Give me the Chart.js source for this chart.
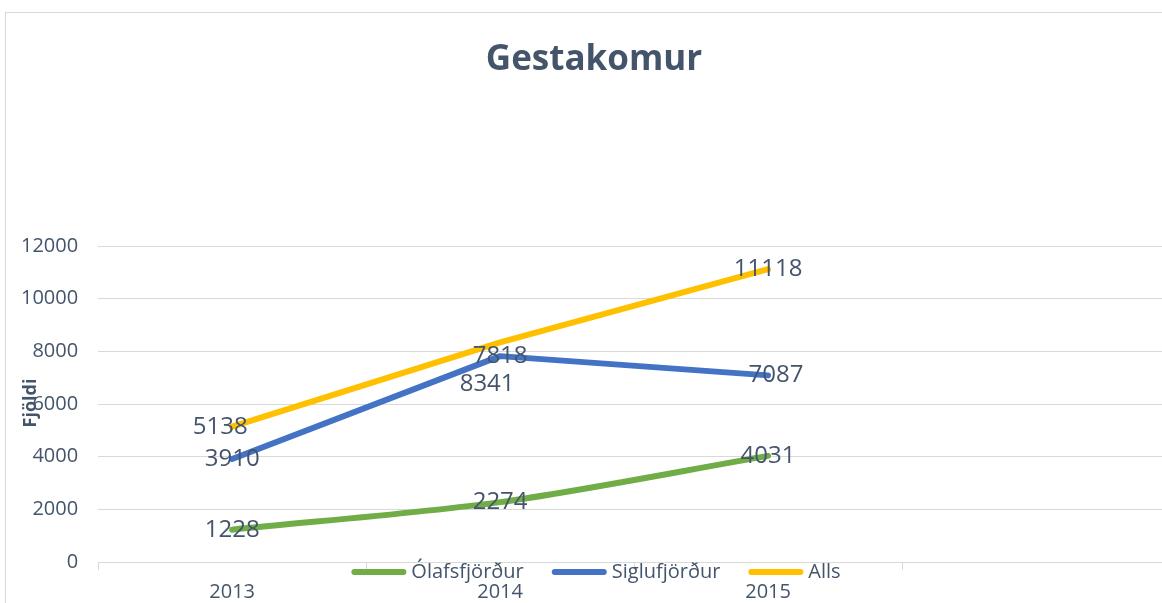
<!DOCTYPE html>
<html>
<head>
<meta charset="utf-8">
<script src="https://cdn.jsdelivr.net/npm/chart.js@4.4.1/dist/chart.umd.min.js"></script>
<style>
  html, body { margin: 0; padding: 0; background: #fff; overflow: hidden; width: 1162px; height: 603px; }
  #frame { position: absolute; left: 5px; top: 12px; width: 1200px; height: 700px; border: 1px solid #d9d9d9; }
  #chart { position: absolute; left: 0; top: 0; }
</style>
</head>
<body>
<div id="frame"></div>
<canvas id="chart" width="1172" height="614"></canvas>
<script>
var years = ['2013', '2014', '2015', ''];
var olafsfjordur = [1228, 2274, 4031];
var siglufjordur = [3910, 7818, 7087];
var alls = [5138, 8341, 11118];
var yTicks = [0, 2000, 4000, 6000, 8000, 10000, 12000];

var textColor = '#44546A';
var font = 'Open Sans';

// label nudges (dataset index -> point index -> [dx, dy]) where Excel moved them
var labelNudge = { 2: { 0: [-12, 0], 1: [-13, 42] }, 1: { 2: [8, 0] } };

var extras = {
  id: 'extras',
  afterDatasetsDraw: function (chart) {
    var ctx = chart.ctx;
    ctx.save();
    ctx.fillStyle = textColor;
    ctx.textAlign = 'center';
    ctx.textBaseline = 'middle';
    // title
    ctx.font = 'bold 35px "' + font + '"';
    ctx.fillText('Gestakomur', 594, 60);
    // data labels
    ctx.font = '24px "' + font + '"';
    chart.data.datasets.forEach(function (ds, di) {
      chart.getDatasetMeta(di).data.forEach(function (pt, i) {
        var n = (labelNudge[di] && labelNudge[di][i]) || [0, 0];
        ctx.fillText(String(ds.data[i]), pt.x + n[0], pt.y + n[1]);
      });
    });
    // y axis title
    ctx.save();
    ctx.translate(31, 403);
    ctx.rotate(-Math.PI / 2);
    ctx.font = 'bold 18px "' + font + '"';
    ctx.fillText('Fjöldi', 0, 0);
    ctx.restore();
    // legend
    ctx.font = '20px "' + font + '"';
    ctx.textAlign = 'left';
    var lineLen = 55, gap = 5, spacing = 28, ly = 572;
    var total = 0;
    chart.data.datasets.forEach(function (ds, di) {
      total += lineLen + gap + ctx.measureText(ds.label).width + (di < chart.data.datasets.length - 1 ? spacing : 0);
    });
    var x = 596 - total / 2;
    chart.data.datasets.forEach(function (ds) {
      ctx.strokeStyle = ds.borderColor;
      ctx.lineWidth = 6;
      ctx.lineCap = 'round';
      ctx.beginPath();
      ctx.moveTo(x + 3, ly);
      ctx.lineTo(x + lineLen - 3, ly);
      ctx.stroke();
      x += lineLen + gap;
      ctx.fillText(ds.label, x, ly);
      x += ctx.measureText(ds.label).width + spacing;
    });
    ctx.restore();
  }
};

new Chart(document.getElementById('chart').getContext('2d'), {
  type: 'line',
  data: {
    labels: years,
    datasets: [
      { label: 'Ólafsfjörður', data: olafsfjordur, borderColor: '#70AD47', tension: 0.3 },
      { label: 'Siglufjörður', data: siglufjordur, borderColor: '#4472C4', tension: 0 },
      { label: 'Alls', data: alls, borderColor: '#FFC000', tension: 0 }
    ]
  },
  options: {
    responsive: false,
    animation: false,
    layout: { padding: { left: 1, right: 2, top: 246, bottom: 0 } },
    elements: {
      line: { borderWidth: 6, borderCapStyle: 'round', borderJoinStyle: 'round' },
      point: { radius: 0, hoverRadius: 0 }
    },
    plugins: {
      legend: { display: false },
      tooltip: { enabled: false },
      title: { display: false }
    },
    scales: {
      x: {
        offset: true,
        grid: { offset: true, drawOnChartArea: false, drawTicks: true, tickLength: 8, color: '#d9d9d9' },
        border: { color: '#d9d9d9' },
        ticks: { color: textColor, font: { family: font, size: 20 }, padding: 10, maxRotation: 0 }
      },
      y: {
        min: 0,
        max: 12000,
        afterBuildTicks: function (axis) { axis.ticks = yTicks.map(function (v) { return { value: v }; }); },
        grid: { color: '#d9d9d9', drawTicks: false },
        border: { display: false },
        ticks: {
          color: textColor, font: { family: font, size: 20 }, padding: 20,
          callback: function (v) { return String(v); }
        }
      }
    }
  },
  plugins: [extras]
});
</script>
</body>
</html>
